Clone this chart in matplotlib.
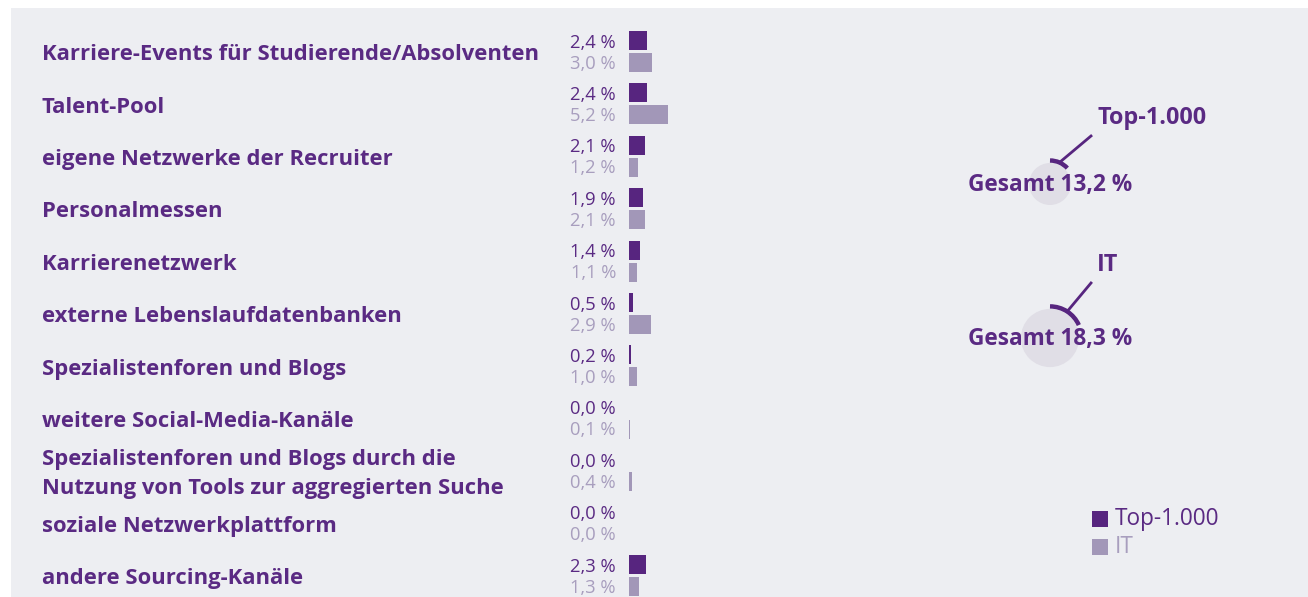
import numpy as np
import matplotlib.pyplot as plt
import matplotlib.transforms as mtransforms
from matplotlib.patches import Rectangle, Circle, Arc

plt.rcParams['font.family'] = ['Open Sans', 'DejaVu Sans']

# Sourcing-Kanäle, Anteile in %
categories = ["Karriere-Events für Studierende/Absolventen",
              "Talent-Pool",
              "eigene Netzwerke der Recruiter",
              "Personalmessen",
              "Karrierenetzwerk",
              "externe Lebenslaufdatenbanken",
              "Spezialistenforen und Blogs",
              "weitere Social-Media-Kanäle",
              "Spezialistenforen und Blogs durch die\nNutzung von Tools zur aggregierten Suche",
              "soziale Netzwerkplattform",
              "andere Sourcing-Kanäle"]
top1000 = [2.4, 2.4, 2.1, 1.9, 1.4, 0.5, 0.2, 0.0, 0.0, 0.0, 2.3]
it = [3.0, 5.2, 1.2, 2.1, 1.1, 2.9, 1.0, 0.1, 0.4, 0.0, 1.3]
series_names = ["Top-1.000", "IT"]
totals = [13.2, 18.3]

purple = '#57257f'
purple_txt = '#5a2a83'
lilac = '#a297b8'
lilac_txt = '#a89ebe'
panel = '#edeef2'
disc = '#e0dee6'


def pct(v):
    return f"{v:.1f}".replace('.', ',') + " %"


W, H = 1308, 597
fig = plt.figure(figsize=(W / 100, H / 100), dpi=100)
fig.patch.set_facecolor('white')
fig.patches.append(Rectangle((11 / W, 0), 1 - 11 / W, 1 - 8 / H, transform=fig.transFigure,
                             facecolor=panel, edgecolor='none', zorder=-5))

# bar axes: 1 % = 7.5 px, bars start at x=629
px_per_pct = 7.5
ax = fig.add_axes([629 / W, 0, 75 / W, 1])
ax.set_xlim(0, 75 / px_per_pct)
row_h = 52.4
ax.set_ylim((H - 51.5) / row_h, -51.5 / row_h)
ax.axis('off')

y = np.arange(len(categories))
off = 11 / row_h
bh = 19 / row_h
ax.barh(y - off, top1000, height=bh, color=purple, linewidth=0)
ax.barh(y + off, it, height=bh, color=lilac, linewidth=0)

tr = mtransforms.blended_transform_factory(fig.transFigure, ax.transData)
for i, cat in enumerate(categories):
    ax.text(42 / W, i + 0.06, cat, transform=tr, ha='left', va='center', fontsize=15.8,
            fontweight='bold', color=purple_txt, linespacing=1.5, clip_on=False)
    ax.text(616 / W, i - off + 0.04, pct(top1000[i]),
            transform=tr, ha='right', va='center', fontsize=13.2, color=purple_txt)
    ax.text(616 / W, i + off + 0.02, pct(it[i]),
            transform=tr, ha='right', va='center', fontsize=13.2, color=lilac_txt)

# Gesamt-Kreise (Radius proportional zum Wert)
ov = fig.add_axes([0, 0, 1, 1], facecolor='none')
ov.set_xlim(0, W)
ov.set_ylim(H, 0)
ov.axis('off')
centers = [(1050, 184), (1050, 338)]
ends = [(1091, 136), (1091, 283)]
for (cx, cy), (ex, ey), name, tot in zip(centers, ends, series_names, totals):
    r = tot * 1.59
    ov.add_patch(Circle((cx, cy), r, facecolor=disc, edgecolor='none'))
    ra = r + 2.5
    sweep = 360 * tot / 100
    # y axis is inverted, so angles run clockwise on screen
    ov.add_patch(Arc((cx, cy), 2 * ra, 2 * ra, theta1=270, theta2=270 + sweep,
                     color=purple, linewidth=3.2))
    mid = np.deg2rad(270 + sweep / 2)
    sx, sy = cx + ra * np.cos(mid), cy + ra * np.sin(mid)
    ov.plot([sx, ex], [sy, ey], color=purple, linewidth=2)
    ov.text(cx, cy + 1, "Gesamt " + pct(tot), ha='center',
            va='center', fontsize=16.3, fontweight='bold', color=purple_txt)
    ov.text(ex + 6, ey - 18, name, ha='left', va='center', fontsize=16.8,
            fontweight='bold', color=purple_txt)

# Legende
for k, (name, col, tcol) in enumerate(zip(series_names, [purple, lilac], [purple_txt, lilac_txt])):
    yy = 519 + 28 * k
    ov.add_patch(Rectangle((1092, yy - 8), 16, 16, facecolor=col, edgecolor='none'))
    ov.text(1115, yy, name, ha='left', va='center', fontsize=16.3, color=tcol)

fig.savefig('out.png', dpi=100, facecolor=fig.get_facecolor())
